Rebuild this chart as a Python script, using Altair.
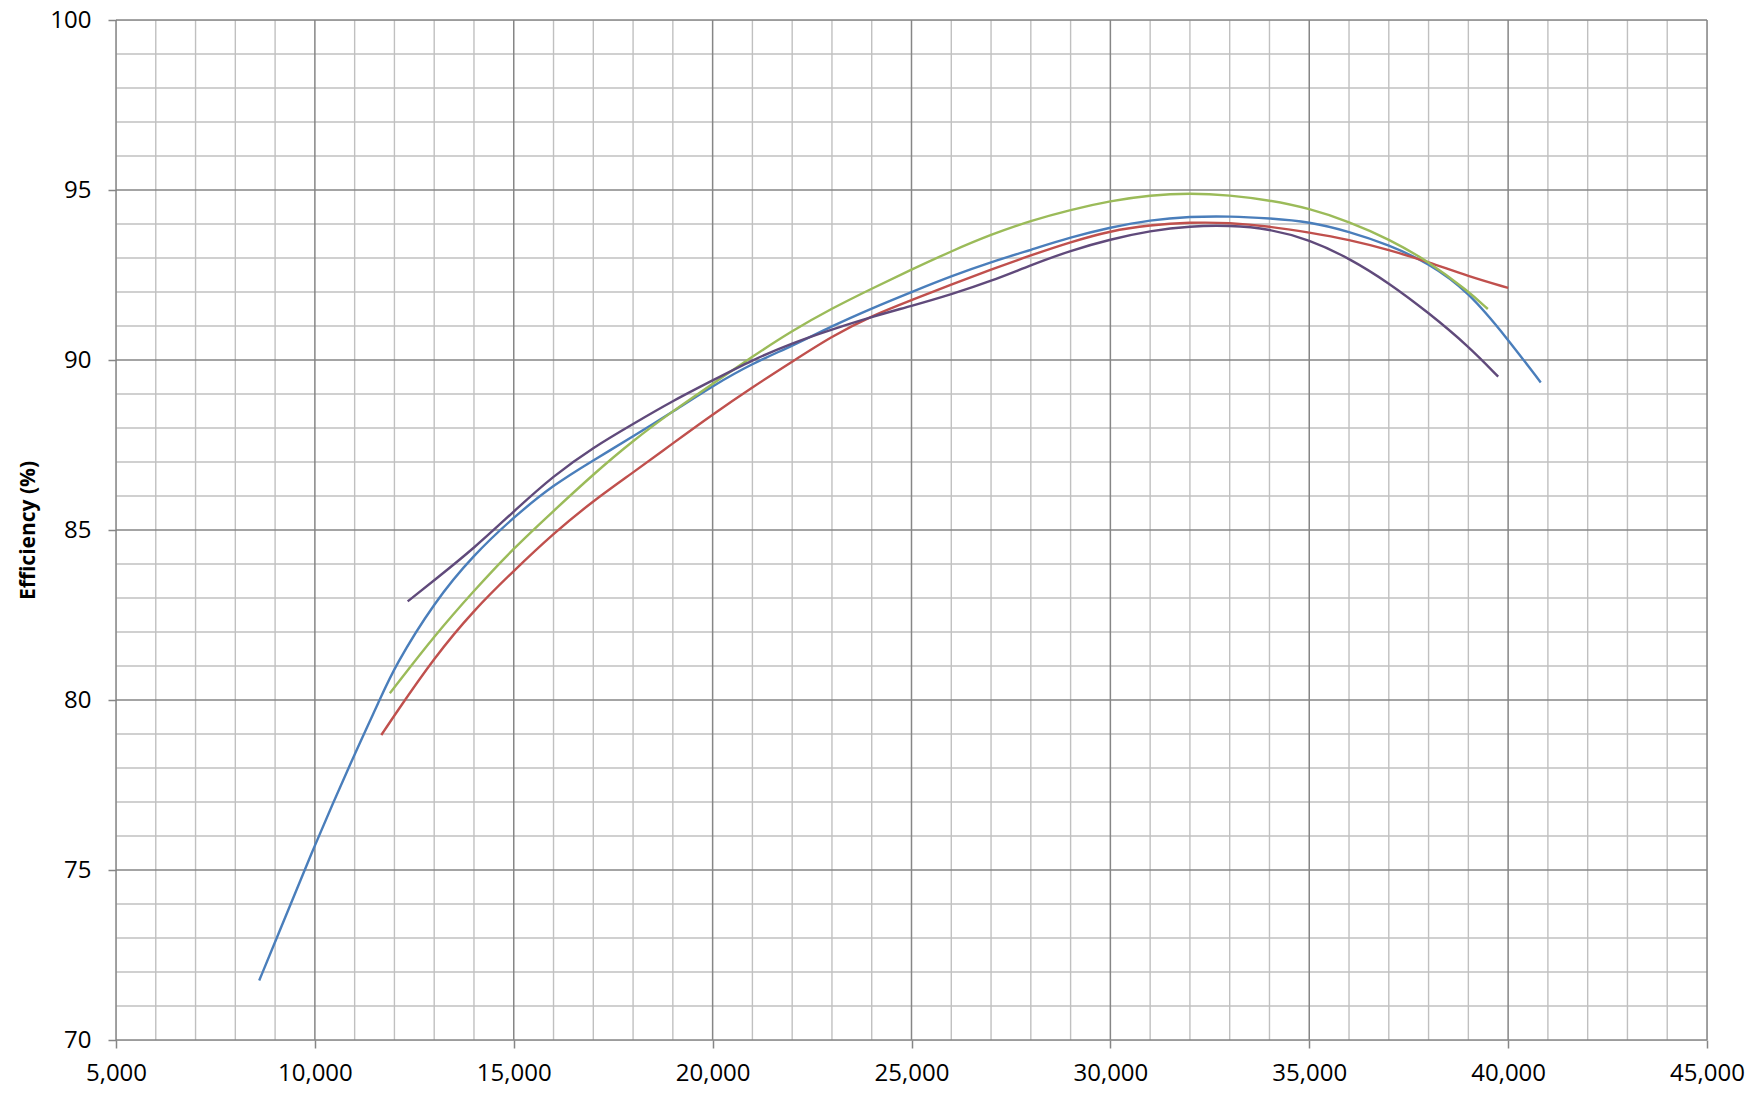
import altair as alt
import pandas as pd

# ---- data ----
blue_x = [8600, 9000, 10000, 11000, 11630, 12000, 13000, 14000, 15000, 16000, 17000, 18000, 19000,
          20000, 21000, 22000, 23000, 24000, 25000, 26000, 27000, 28000, 29000, 30000, 31000,
          32000, 33000, 34000, 35000, 36000, 37000, 38000, 39000, 40000, 40820]
blue_y = [71.75, 72.88, 75.75, 78.42, 80.0, 80.97, 82.88, 84.28, 85.38, 86.33, 87.05, 87.75, 88.48,
          89.24, 89.9, 90.41, 91.0, 91.52, 92.0, 92.47, 92.88, 93.24, 93.61, 93.9, 94.12,
          94.22, 94.23, 94.17, 94.07, 93.78, 93.39, 92.85, 92.02, 90.6, 89.34]

red_x = [11670, 12000, 13000, 14000, 15000, 16000, 17000, 18000, 19000, 20000, 21000, 22000,
         23000, 24000, 25000, 26000, 27000, 28000, 29000, 30000, 31000, 32000, 33000, 34000,
         35000, 36000, 37000, 38000, 39000, 40000]
red_y = [78.97, 79.55, 81.25, 82.65, 83.8, 84.9, 85.86, 86.69, 87.55, 88.4, 89.2, 89.95,
         90.7, 91.3, 91.76, 92.22, 92.66, 93.08, 93.47, 93.8, 93.97, 94.05, 94.04, 93.93,
         93.75, 93.54, 93.24, 92.88, 92.46, 92.12]

green_x = [11885, 12000, 13000, 14000, 15000, 16000, 17000, 18000, 19000, 20000, 21000, 22000, 23000,
           24000, 25000, 26000, 27000, 28000, 29000, 30000, 31000, 32000, 33000, 34000, 35000,
           36000, 37000, 38000, 39000, 39490]
green_y = [80.2, 80.37, 81.88, 83.22, 84.47, 85.56, 86.64, 87.63, 88.5, 89.3, 90.1, 90.86, 91.52,
           92.1, 92.66, 93.2, 93.69, 94.1, 94.42, 94.68, 94.85, 94.91, 94.85, 94.7, 94.46,
           94.07, 93.56, 92.9, 92.02, 91.5]

purple_x = [12333, 13000, 14000, 15000, 16000, 17000, 18000, 19000, 20000, 21000, 22000, 23000,
            24000, 25000, 26000, 27000, 28000, 29000, 30000, 31000, 32000, 33000, 34000, 35000,
            36000, 37000, 38000, 39000, 39750]
purple_y = [82.9, 83.52, 84.46, 85.55, 86.6, 87.43, 88.12, 88.8, 89.4, 90.0, 90.5, 90.9,
            91.27, 91.59, 91.93, 92.32, 92.79, 93.22, 93.55, 93.8, 93.94, 93.96, 93.86, 93.54,
            93.0, 92.27, 91.39, 90.41, 89.51]

series_names = ["Series 1", "Series 2", "Series 3", "Series 4"]
series_colors = ["#4A7EBB", "#C0504D", "#9BBB59", "#604A7B"]

x_major = [5000, 10000, 15000, 20000, 25000, 30000, 35000, 40000, 45000]
x_minor = [v for v in range(5000, 45001, 1000) if v not in x_major]
y_major = [70, 75, 80, 85, 90, 95, 100]
y_minor = [v for v in range(70, 101) if v not in y_major]

# ---- build tables ----
rows = []
for name, xs, ys in zip(series_names,
                        [blue_x, red_x, green_x, purple_x],
                        [blue_y, red_y, green_y, purple_y]):
    for i, (a, b) in enumerate(zip(xs, ys)):
        rows.append({"series": name, "x": a, "y": b, "order": i})
df = pd.DataFrame(rows)

W, H = 1591, 1020
FONT = "Open Sans"

xscale = alt.Scale(domain=[5000, 45000], nice=False, zero=False)
yscale = alt.Scale(domain=[70, 100], nice=False, zero=False)

xaxis = alt.Axis(values=x_major, format=",d", grid=False, domain=False,
                 tickColor="#868686", tickSize=8, tickWidth=1.5,
                 labelFont=FONT, labelFontSize=24, labelColor="#000000",
                 labelPadding=13, title=None, labelFlush=False, labelOverlap=False)
yaxis = alt.Axis(values=y_major, grid=False, domain=False,
                 tickColor="#868686", tickSize=8, tickWidth=1.5,
                 labelFont=FONT, labelFontSize=24, labelColor="#000000",
                 labelPadding=17, title="Efficiency (%)", titleFont=FONT,
                 titleFontSize=21, titleFontWeight="bold", titleColor="#000000",
                 titleAngle=270, titleX=-88, titleY=H / 2, titleAlign="center",
                 titleBaseline="middle", labelFlush=False, labelOverlap=False)

vminor = alt.Chart(pd.DataFrame({"v": x_minor})).mark_rule(color="#C0C0C0", strokeWidth=1.4).encode(
    x=alt.X("v:Q", scale=xscale, axis=xaxis))
hminor = alt.Chart(pd.DataFrame({"v": y_minor})).mark_rule(color="#C0C0C0", strokeWidth=1.4).encode(
    y=alt.Y("v:Q", scale=yscale, axis=yaxis))
vmajor = alt.Chart(pd.DataFrame({"v": x_major})).mark_rule(color="#868686", strokeWidth=1.5).encode(
    x=alt.X("v:Q", scale=xscale, axis=xaxis))
hmajor = alt.Chart(pd.DataFrame({"v": y_major})).mark_rule(color="#868686", strokeWidth=1.5).encode(
    y=alt.Y("v:Q", scale=yscale, axis=yaxis))

lines = alt.Chart(df).mark_line(strokeWidth=2.4, interpolate="basis").encode(
    x=alt.X("x:Q", scale=xscale, axis=xaxis),
    y=alt.Y("y:Q", scale=yscale, axis=yaxis),
    color=alt.Color("series:N", scale=alt.Scale(domain=series_names, range=series_colors), legend=None),
    order="order:Q",
)

chart = alt.layer(vminor, hminor, vmajor, hmajor, lines).properties(
    width=W, height=H,
    padding={"left": 108, "top": 12, "right": 38, "bottom": 48},
    autosize=alt.AutoSizeParams(type="none"),
).configure_view(stroke=None).configure(background="white")

chart.save("out.html", embed_options={"renderer": "svg", "actions": False})
